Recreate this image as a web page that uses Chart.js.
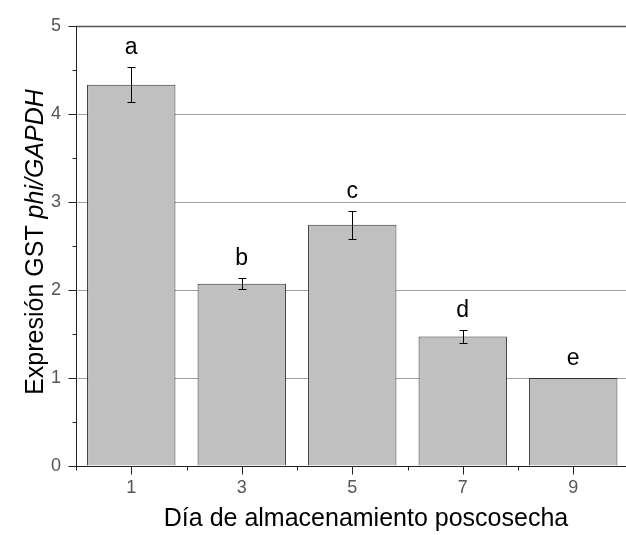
<!DOCTYPE html>
<html>
<head>
<meta charset="utf-8">
<script src="https://cdn.jsdelivr.net/npm/chart.js@4.4.1/dist/chart.umd.min.js"></script>
<style>
  html, body { margin: 0; padding: 0; background: #fff; overflow: hidden; }
  #wrap { position: relative; width: 640px; height: 535px; }
</style>
</head>
<body>
<div id="wrap"><canvas id="c" width="640" height="535"></canvas></div>
<script>
// Storage day (categories), relative expression and standard error
const days = ['1', '3', '5', '7', '9'];
const expression = [4.33, 2.07, 2.74, 1.47, 1.00];
const errors = [0.20, 0.06, 0.16, 0.07, 0.00];
const groupLetters = ['a', 'b', 'c', 'd', 'e'];
const yMajorTicks = [0, 1, 2, 3, 4, 5];
const yMinorTicks = [0.5, 1.5, 2.5, 3.5, 4.5];
const gridValues = [1, 2, 3, 4];

const FONT = '"Liberation Sans", Arial, sans-serif';

// Centered text made of plain and italic runs, optionally rotated
function richText(ctx, parts, x, y, size, rotate) {
  const widths = parts.map(p => {
    ctx.font = (p.italic ? 'italic ' : '') + size + 'px ' + FONT;
    return ctx.measureText(p.text).width;
  });
  const total = widths.reduce((s, w) => s + w, 0);
  ctx.save();
  ctx.translate(x, y);
  if (rotate) ctx.rotate(-Math.PI / 2);
  ctx.textAlign = 'left';
  ctx.textBaseline = 'alphabetic';
  let cx = -total / 2;
  parts.forEach((p, i) => {
    ctx.font = (p.italic ? 'italic ' : '') + size + 'px ' + FONT;
    ctx.fillText(p.text, cx, 0);
    cx += widths[i];
  });
  ctx.restore();
}

// Draws grid lines behind the bars, then axes, tick marks, error bars,
// significance letters and the axis titles on top.
const decorations = {
  id: 'decorations',
  beforeDatasetsDraw(chart) {
    const { ctx, chartArea: a, scales: { y } } = chart;
    ctx.save();
    ctx.strokeStyle = '#a0a0a0';
    ctx.lineWidth = 1;
    gridValues.forEach(v => {
      const py = Math.round(y.getPixelForValue(v)) + 0.5;
      ctx.beginPath();
      ctx.moveTo(a.left, py);
      ctx.lineTo(a.right, py);
      ctx.stroke();
    });
    // top frame line
    const pt = Math.round(y.getPixelForValue(5)) + 0.5;
    ctx.strokeStyle = '#555';
    ctx.lineWidth = 1.5;
    ctx.beginPath();
    ctx.moveTo(a.left, pt);
    ctx.lineTo(a.right, pt);
    ctx.stroke();
    ctx.restore();
  },
  afterDatasetsDraw(chart) {
    const { ctx, chartArea: a, scales: { x, y } } = chart;
    ctx.save();
    ctx.strokeStyle = '#222';
    ctx.lineWidth = 1;

    // axis lines
    const ax = Math.round(a.left) + 0.5;
    const ay = Math.round(y.getPixelForValue(0)) + 0.5;
    ctx.beginPath();
    ctx.moveTo(ax, Math.round(y.getPixelForValue(5)));
    ctx.lineTo(ax, ay);
    ctx.lineTo(a.right, ay);
    ctx.stroke();

    // y ticks (outward)
    yMajorTicks.forEach(v => {
      const py = Math.round(y.getPixelForValue(v)) + 0.5;
      ctx.beginPath(); ctx.moveTo(ax - 8, py); ctx.lineTo(ax, py); ctx.stroke();
    });
    yMinorTicks.forEach(v => {
      const py = Math.round(y.getPixelForValue(v)) + 0.5;
      ctx.beginPath(); ctx.moveTo(ax - 4, py); ctx.lineTo(ax, py); ctx.stroke();
    });

    // x ticks: major at each day, minor between bars
    const n = days.length;
    for (let i = 0; i < n; i++) {
      const px = Math.round(x.getPixelForValue(i)) + 0.5;
      ctx.beginPath(); ctx.moveTo(px, ay); ctx.lineTo(px, ay + 8); ctx.stroke();
    }
    for (let i = 0; i <= n; i++) {
      const px = Math.round(x.getPixelForValue(i - 0.5)) + 0.5;
      ctx.beginPath(); ctx.moveTo(px, ay); ctx.lineTo(px, ay + 4); ctx.stroke();
    }

    // error bars
    ctx.strokeStyle = '#000';
    expression.forEach((v, i) => {
      const e = errors[i];
      if (!e) return;
      const px = Math.round(x.getPixelForValue(i)) + 0.5;
      const top = Math.round(y.getPixelForValue(v + e)) + 0.5;
      const bot = Math.round(y.getPixelForValue(v - e)) + 0.5;
      ctx.beginPath();
      ctx.moveTo(px, top); ctx.lineTo(px, bot);
      ctx.moveTo(px - 4, top); ctx.lineTo(px + 4, top);
      ctx.moveTo(px - 4, bot); ctx.lineTo(px + 4, bot);
      ctx.stroke();
    });

    // significance letters
    ctx.fillStyle = '#000';
    expression.forEach((v, i) => {
      const px = x.getPixelForValue(i);
      const top = y.getPixelForValue(v + errors[i]);
      richText(ctx, [{ text: groupLetters[i] }], px, top - 13, 23, false);
    });

    // axis titles
    richText(ctx, [{ text: 'Día de almacenamiento poscosecha' }], 366, 526, 25, false);
    richText(ctx, [{ text: 'Expresión GST ' }, { text: 'phi/GAPDH', italic: true }], 43, 242, 25, true);
    ctx.restore();
  }
};

new Chart(document.getElementById('c'), {
  type: 'bar',
  data: {
    labels: days,
    datasets: [{
      data: expression,
      backgroundColor: '#c0c0c0',
      borderColor: '#333',
      borderWidth: 1,
      categoryPercentage: 1.0,
      barPercentage: 0.8
    }]
  },
  options: {
    responsive: false,
    animation: false,
    layout: { padding: { left: 0, right: 11.5, top: 20, bottom: 0 } },
    plugins: { legend: { display: false }, tooltip: { enabled: false } },
    scales: {
      x: {
        offset: true,
        grid: { display: true, drawOnChartArea: false, drawTicks: false, color: 'rgba(0,0,0,0)' },
        border: { display: false },
        ticks: { color: '#555', font: { family: FONT, size: 18 }, padding: 11 },
        afterFit(s) { s.height = 69; }
      },
      y: {
        min: 0,
        max: 5,
        grid: { display: true, drawOnChartArea: false, drawTicks: false, color: 'rgba(0,0,0,0)' },
        border: { display: false },
        ticks: { stepSize: 1, color: '#555', font: { family: FONT, size: 18 }, padding: 15 },
        afterFit(s) { s.width = 76; }
      }
    }
  },
  plugins: [decorations]
});
</script>
</body>
</html>
